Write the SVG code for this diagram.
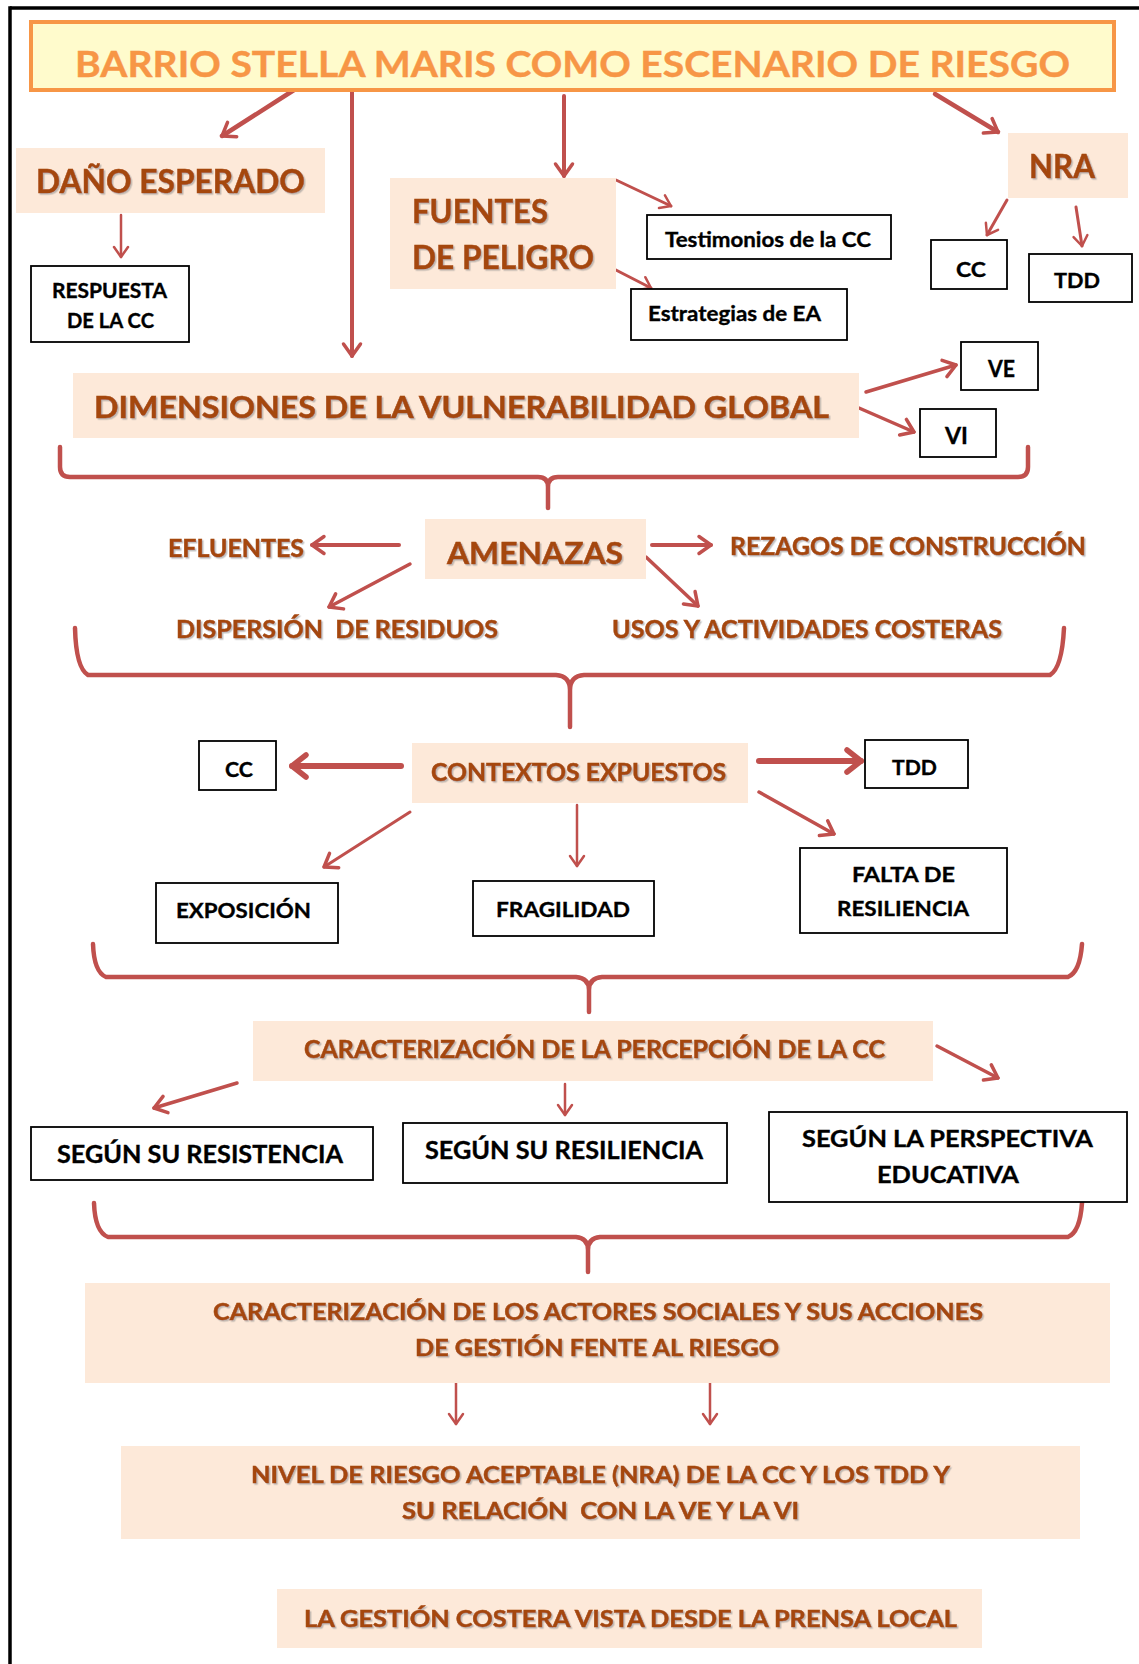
<svg xmlns="http://www.w3.org/2000/svg" width="1139" height="1664" viewBox="0 0 1139 1664">
  <style>
    .peach { fill: #FDE9D9; }
    .box { fill: #FFFFFF; stroke: #000000; stroke-width: 1.8; }
    .ttl { font-family: Lato, "Open Sans", "Liberation Sans", sans-serif; font-weight: bold; fill: #A5470D; stroke: #A5470D; stroke-width: 0.5; filter: url(#shadow); }
    .lbl { font-family: Lato, "Open Sans", "Liberation Sans", sans-serif; font-weight: bold; fill: #000000; stroke: #000000; stroke-width: 0.35; }
    .link { fill: none; stroke: #C0504D; stroke-linecap: round; stroke-linejoin: round; }
    .brace { fill: none; stroke: #C0504D; stroke-width: 4.5; stroke-linecap: round; stroke-linejoin: round; }
  </style>
  <defs>
    <filter id="shadow" x="-5%" y="-20%" width="110%" height="150%">
      <feDropShadow dx="1.5" dy="1.5" stdDeviation="0.6" flood-color="#8C8C8C" flood-opacity="0.55"/>
    </filter>
    <marker id="ah-thin" markerUnits="userSpaceOnUse" viewBox="-20 -12 24 24" markerWidth="24" markerHeight="24" refX="0" refY="0" orient="auto" overflow="visible">
      <path d="M-10,-7 L0,0 L-10,7" fill="none" stroke="#C0504D" stroke-width="2.5" stroke-linecap="round" stroke-linejoin="round"/>
    </marker>
    <marker id="ah-mid" markerUnits="userSpaceOnUse" viewBox="-20 -12 24 24" markerWidth="24" markerHeight="24" refX="0" refY="0" orient="auto" overflow="visible">
      <path d="M-12,-8.5 L0,0 L-12,8.5" fill="none" stroke="#C0504D" stroke-width="3.5" stroke-linecap="round" stroke-linejoin="round"/>
    </marker>
    <marker id="ah-thick" markerUnits="userSpaceOnUse" viewBox="-20 -12 24 24" markerWidth="24" markerHeight="24" refX="0" refY="0" orient="auto" overflow="visible">
      <path d="M-14,-11 L0,0 L-14,11" fill="none" stroke="#C0504D" stroke-width="5.5" stroke-linecap="round" stroke-linejoin="round"/>
    </marker>
  </defs>

  <rect x="0" y="0" width="1139" height="1664" fill="#FFFFFF"/>

  <!-- page frame: top and left rules -->
  <g id="frame" stroke="#000000" stroke-width="3.5">
    <line x1="10" y1="8" x2="1139" y2="8"/>
    <line x1="10" y1="6.3" x2="10" y2="1664"/>
  </g>

  <!-- connectors -->
  <g id="connectors">
    <path class="link" stroke-width="4.5" d="M294,90 L222,136" marker-end="url(#ah-mid)"/>
    <path class="link" stroke-width="4" d="M352,92 L352,356" marker-end="url(#ah-mid)"/>
    <path class="link" stroke-width="4" d="M564,96 L564,176" marker-end="url(#ah-mid)"/>
    <path class="link" stroke-width="4.5" d="M935,94 L998,132" marker-end="url(#ah-mid)"/>
    <path class="link" stroke-width="2.5" d="M121,215 L121,257" marker-end="url(#ah-thin)"/>
    <path class="link" stroke-width="3" d="M616,180 L671,206" marker-end="url(#ah-thin)"/>
    <path class="link" stroke-width="3" d="M612,268 L651,288" marker-end="url(#ah-thin)"/>
    <path class="link" stroke-width="3" d="M1007,200 L987,235" marker-end="url(#ah-thin)"/>
    <path class="link" stroke-width="3" d="M1076,207 L1082,246" marker-end="url(#ah-thin)"/>
    <path class="link" stroke-width="3.5" d="M866,392 L956,365" marker-end="url(#ah-mid)"/>
    <path class="link" stroke-width="3.5" d="M859,408 L914,432" marker-end="url(#ah-mid)"/>
    <path class="link" stroke-width="4" d="M399,545 L312,545" marker-end="url(#ah-mid)"/>
    <path class="link" stroke-width="4" d="M652,545 L711,545" marker-end="url(#ah-mid)"/>
    <path class="link" stroke-width="3.5" d="M410,564 L329,607" marker-end="url(#ah-mid)"/>
    <path class="link" stroke-width="3.5" d="M646,557 L698,606" marker-end="url(#ah-mid)"/>
    <path class="link" stroke-width="6" d="M401,766 L292,766" marker-end="url(#ah-thick)"/>
    <path class="link" stroke-width="6" d="M759,761 L861,761" marker-end="url(#ah-thick)"/>
    <path class="link" stroke-width="3.5" d="M759,792 L834,834" marker-end="url(#ah-mid)"/>
    <path class="link" stroke-width="3" d="M410,812 L324,867" marker-end="url(#ah-mid)"/>
    <path class="link" stroke-width="2.5" d="M577,805 L577,866" marker-end="url(#ah-thin)"/>
    <path class="link" stroke-width="3.5" d="M237,1083 L154,1108" marker-end="url(#ah-mid)"/>
    <path class="link" stroke-width="2.5" d="M565,1084 L565,1115" marker-end="url(#ah-thin)"/>
    <path class="link" stroke-width="3.5" d="M937,1046 L998,1078" marker-end="url(#ah-mid)"/>
    <path class="link" stroke-width="2.5" d="M456,1383 L456,1424" marker-end="url(#ah-thin)"/>
    <path class="link" stroke-width="2.5" d="M710,1383 L710,1424" marker-end="url(#ah-thin)"/>

    <!-- grouping braces -->
    <path class="brace" stroke-width="5" d="M60,447 L60,467 Q60,477 70,477 L538,477 Q548,477 548,487 L548,508 M548,487 Q548,477 558,477 L1018,477 Q1028,477 1028,467 L1028,447"/>
    <path class="brace" d="M75,628 Q76,668 88,675 L556,675 Q570,676 570,690 L570,727 M570,690 Q570,676 584,675 L1050,675 Q1062,668 1064,628"/>
    <path class="brace" d="M93,944 Q94,972 106,977 L576,977 Q589,978 589,990 L589,1012 M589,990 Q589,978 602,977 L1068,977 Q1080,972 1082,944"/>
    <path class="brace" d="M94,1203 Q95,1232 108,1237 L576,1237 Q588,1238 588,1250 L588,1272 M588,1250 Q588,1238 600,1237 L1068,1237 Q1080,1232 1082,1203"/>
  </g>

  <!-- title -->
  <g id="n-title">
    <rect x="31" y="22" width="1083" height="68" fill="#FFFBCC" stroke="#F79646" stroke-width="4"/>
    <text x="75" y="77" font-family="Lato, 'Open Sans', 'Liberation Sans', sans-serif" font-weight="bold" font-size="37" fill="#F79646" stroke="#F79646" stroke-width="0.4" textLength="995" lengthAdjust="spacingAndGlyphs">BARRIO STELLA MARIS COMO ESCENARIO DE RIESGO</text>
  </g>

  <g id="n-dano">
    <rect class="peach" x="16" y="148" width="309" height="65"/>
    <text class="ttl" x="36" y="193" font-size="32" textLength="269" lengthAdjust="spacingAndGlyphs">DAÑO ESPERADO</text>
  </g>
  <g id="n-respuesta">
    <rect class="box" x="31" y="266" width="158" height="76"/>
    <text class="lbl" x="52" y="298" font-size="20" textLength="115" lengthAdjust="spacingAndGlyphs">RESPUESTA</text>
    <text class="lbl" x="67" y="328" font-size="20" textLength="87" lengthAdjust="spacingAndGlyphs">DE LA CC</text>
  </g>

  <g id="n-fuentes">
    <rect class="peach" x="390" y="178" width="226" height="111"/>
    <text class="ttl" x="412" y="223" font-size="32" textLength="136" lengthAdjust="spacingAndGlyphs">FUENTES</text>
    <text class="ttl" x="412" y="269" font-size="32" textLength="182" lengthAdjust="spacingAndGlyphs">DE PELIGRO</text>
  </g>
  <g id="n-testimonios">
    <rect class="box" x="647" y="215" width="244" height="44"/>
    <text class="lbl" x="665" y="247" font-size="21" textLength="206" lengthAdjust="spacingAndGlyphs">Testimonios de la CC</text>
  </g>
  <g id="n-estrategias">
    <rect class="box" x="631" y="289" width="216" height="51"/>
    <text class="lbl" x="648" y="321" font-size="21" textLength="173" lengthAdjust="spacingAndGlyphs">Estrategias de EA</text>
  </g>

  <g id="n-nra">
    <rect class="peach" x="1008" y="133" width="120" height="65"/>
    <text class="ttl" x="1029" y="178" font-size="32" textLength="66" lengthAdjust="spacingAndGlyphs">NRA</text>
  </g>
  <g id="n-nra-cc">
    <rect class="box" x="931" y="240" width="76" height="49"/>
    <text class="lbl" x="956" y="277" font-size="21" textLength="30" lengthAdjust="spacingAndGlyphs">CC</text>
  </g>
  <g id="n-nra-tdd">
    <rect class="box" x="1029" y="254" width="103" height="48"/>
    <text class="lbl" x="1054" y="288" font-size="21" textLength="46" lengthAdjust="spacingAndGlyphs">TDD</text>
  </g>

  <g id="n-dimensiones">
    <rect class="peach" x="73" y="373" width="786" height="65"/>
    <text class="ttl" x="94" y="418" font-size="30" textLength="735" lengthAdjust="spacingAndGlyphs">DIMENSIONES DE LA VULNERABILIDAD GLOBAL</text>
  </g>
  <g id="n-ve">
    <rect class="box" x="961" y="342" width="77" height="48"/>
    <text class="lbl" x="988" y="377" font-size="23" textLength="27" lengthAdjust="spacingAndGlyphs">VE</text>
  </g>
  <g id="n-vi">
    <rect class="box" x="920" y="409" width="76" height="48"/>
    <text class="lbl" x="945" y="444" font-size="23" textLength="23" lengthAdjust="spacingAndGlyphs">VI</text>
  </g>

  <g id="n-amenazas">
    <rect class="peach" x="425" y="519" width="221" height="60"/>
    <text class="ttl" x="447" y="564" font-size="31" textLength="176" lengthAdjust="spacingAndGlyphs">AMENAZAS</text>
  </g>
  <g id="n-efluentes">
    <text class="ttl" x="168" y="557" font-size="25.5" textLength="136" lengthAdjust="spacingAndGlyphs">EFLUENTES</text>
  </g>
  <g id="n-rezagos">
    <text class="ttl" x="730" y="555" font-size="25" textLength="356" lengthAdjust="spacingAndGlyphs">REZAGOS DE CONSTRUCCIÓN</text>
  </g>
  <g id="n-dispersion">
    <text class="ttl" x="176" y="638" font-size="25" textLength="322" lengthAdjust="spacingAndGlyphs" xml:space="preserve">DISPERSIÓN  DE RESIDUOS</text>
  </g>
  <g id="n-usos">
    <text class="ttl" x="612" y="638" font-size="25" textLength="390" lengthAdjust="spacingAndGlyphs">USOS Y ACTIVIDADES COSTERAS</text>
  </g>

  <g id="n-contextos">
    <rect class="peach" x="412" y="743" width="336" height="60"/>
    <text class="ttl" x="431" y="781" font-size="25" textLength="295" lengthAdjust="spacingAndGlyphs">CONTEXTOS EXPUESTOS</text>
  </g>
  <g id="n-ctx-cc">
    <rect class="box" x="199" y="741" width="77" height="49"/>
    <text class="lbl" x="225" y="777" font-size="21" textLength="28" lengthAdjust="spacingAndGlyphs">CC</text>
  </g>
  <g id="n-ctx-tdd">
    <rect class="box" x="865" y="740" width="103" height="48"/>
    <text class="lbl" x="892" y="775" font-size="21" textLength="45" lengthAdjust="spacingAndGlyphs">TDD</text>
  </g>
  <g id="n-exposicion">
    <rect class="box" x="156" y="883" width="182" height="60"/>
    <text class="lbl" x="176" y="918" font-size="21" textLength="135" lengthAdjust="spacingAndGlyphs">EXPOSICIÓN</text>
  </g>
  <g id="n-fragilidad">
    <rect class="box" x="473" y="881" width="181" height="55"/>
    <text class="lbl" x="496" y="917" font-size="21.5" textLength="134" lengthAdjust="spacingAndGlyphs">FRAGILIDAD</text>
  </g>
  <g id="n-falta">
    <rect class="box" x="800" y="848" width="207" height="85"/>
    <text class="lbl" x="852" y="882" font-size="21" textLength="103" lengthAdjust="spacingAndGlyphs">FALTA DE</text>
    <text class="lbl" x="837" y="916" font-size="21.5" textLength="132" lengthAdjust="spacingAndGlyphs">RESILIENCIA</text>
  </g>

  <g id="n-percepcion">
    <rect class="peach" x="253" y="1021" width="680" height="60"/>
    <text class="ttl" x="304" y="1058" font-size="24" textLength="581" lengthAdjust="spacingAndGlyphs">CARACTERIZACIÓN DE LA PERCEPCIÓN DE LA CC</text>
  </g>
  <g id="n-resistencia">
    <rect class="box" x="31" y="1127" width="342" height="53"/>
    <text class="lbl" x="57" y="1163" font-size="25" textLength="286" lengthAdjust="spacingAndGlyphs">SEGÚN SU RESISTENCIA</text>
  </g>
  <g id="n-resiliencia">
    <rect class="box" x="403" y="1123" width="324" height="60"/>
    <text class="lbl" x="425" y="1159" font-size="24.5" textLength="278" lengthAdjust="spacingAndGlyphs">SEGÚN SU RESILIENCIA</text>
  </g>
  <g id="n-perspectiva">
    <rect class="box" x="769" y="1112" width="358" height="90"/>
    <text class="lbl" x="802" y="1147" font-size="23.5" textLength="291" lengthAdjust="spacingAndGlyphs">SEGÚN LA PERSPECTIVA</text>
    <text class="lbl" x="877" y="1183" font-size="23.5" textLength="142" lengthAdjust="spacingAndGlyphs">EDUCATIVA</text>
  </g>

  <g id="n-actores">
    <rect class="peach" x="85" y="1283" width="1025" height="100"/>
    <text class="ttl" x="213" y="1320" font-size="23.5" textLength="770" lengthAdjust="spacingAndGlyphs">CARACTERIZACIÓN DE LOS ACTORES SOCIALES Y SUS ACCIONES</text>
    <text class="ttl" x="415" y="1356" font-size="23.5" textLength="364" lengthAdjust="spacingAndGlyphs">DE GESTIÓN FENTE AL RIESGO</text>
  </g>

  <g id="n-nivel">
    <rect class="peach" x="121" y="1446" width="959" height="93"/>
    <text class="ttl" x="251" y="1483" font-size="23.5" textLength="699" lengthAdjust="spacingAndGlyphs">NIVEL DE RIESGO ACEPTABLE (NRA) DE LA CC Y LOS TDD Y</text>
    <text class="ttl" x="402" y="1519" font-size="23.5" textLength="397" lengthAdjust="spacingAndGlyphs" xml:space="preserve">SU RELACIÓN  CON LA VE Y LA VI</text>
  </g>

  <g id="n-prensa">
    <rect class="peach" x="277" y="1589" width="705" height="59"/>
    <text class="ttl" x="304" y="1627" font-size="23.5" textLength="653" lengthAdjust="spacingAndGlyphs">LA GESTIÓN COSTERA VISTA DESDE LA PRENSA LOCAL</text>
  </g>
</svg>
